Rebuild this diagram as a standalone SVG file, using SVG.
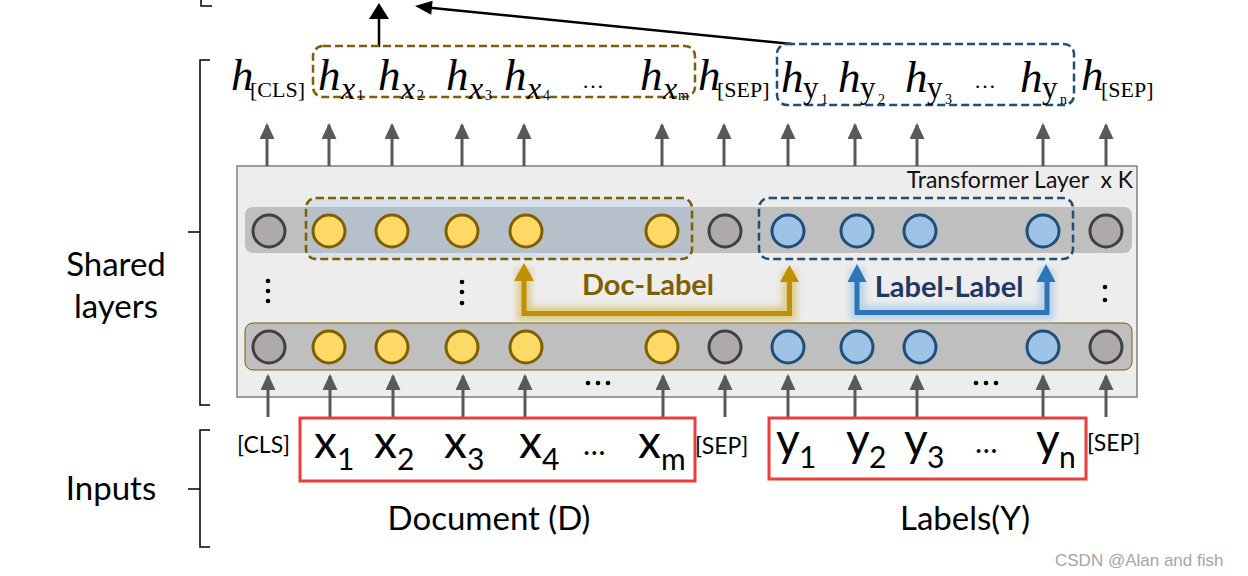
<svg xmlns="http://www.w3.org/2000/svg" width="1248" height="576" viewBox="0 0 1248 576">
<defs>
<style>
.hi{font-family:"Liberation Serif",serif;font-style:italic;font-size:45px;fill:#000}
.sb{font-family:"Liberation Serif",serif;font-size:22px;fill:#000}
.sx{font-family:"Liberation Serif",serif;font-style:italic;font-size:32px;fill:#000}
.sy{font-family:"Liberation Serif",serif;font-size:31px;fill:#000}
.sd{font-family:"Liberation Serif",serif;font-size:14px;fill:#000}
.cal{font-family:Lato,"Liberation Sans",sans-serif}
.tok{font-family:Lato,"Liberation Sans",sans-serif;font-size:46px;fill:#000}
.tsub{font-family:Lato,"Liberation Sans",sans-serif;font-size:30px;fill:#000}
.spec{font-family:Lato,"Liberation Sans",sans-serif;font-size:23px;fill:#000}
.ga{stroke:#595959;stroke-width:3;fill:none;marker-end:url(#gh)}
.cg{fill:#aeaaaa;stroke:#404040;stroke-width:3}
.cy{fill:#ffd966;stroke:#7f6000;stroke-width:3}
.cb{fill:#9dc3e6;stroke:#1f4e79;stroke-width:3}
.dot{fill:#000}
.brace{fill:none;stroke:#000;stroke-width:1.5}
</style>
<marker id="gh" markerUnits="userSpaceOnUse" viewBox="0 0 16 15" refX="14" refY="7.5" markerWidth="16" markerHeight="15" orient="auto">
<path d="M0,0 L16,7.5 L0,15 z" fill="#595959"/>
</marker>
<filter id="blur" x="-20%" y="-50%" width="140%" height="200%">
<feGaussianBlur stdDeviation="3"/>
</filter>
</defs>

<!-- braces -->
<g id="brace-top">
<path class="brace" d="M212,6 H201 V-10"/>
</g>
<g id="brace-shared">
<path class="brace" d="M210,60 H200 V232 H188 M200,232 V405 H210"/>
<text class="cal" x="116" y="276" font-size="33" style="fill:#000" text-anchor="middle">Shared</text>
<text class="cal" x="116" y="318" font-size="33" style="fill:#000" text-anchor="middle">layers</text>
</g>
<g id="brace-inputs">
<path class="brace" d="M210,430 H200 V489 H188 M200,489 V547 H210"/>
<text class="cal" x="111" y="500" font-size="33" style="fill:#000" text-anchor="middle">Inputs</text>
</g>

<!-- transformer block -->
<g id="transformer">
<rect x="237" y="166" width="900" height="231" fill="#ededed" stroke="#7f7f7f" stroke-width="1.5"/>
<text class="cal" x="1133" y="188" font-size="23" text-anchor="end" style="fill:#111;white-space:pre">Transformer Layer  x K</text>
<rect x="245" y="207" width="887" height="46" rx="8" fill="#bfbfbf"/>
<rect x="245" y="323" width="887" height="47" rx="8" fill="#bfbfbf" stroke="#7f6000" stroke-width="1"/>
</g>

<g id="doc-group-mid">
<rect x="306" y="198" width="386" height="61" rx="10" fill="#9dc3e6" fill-opacity="0.28" stroke="#7f6000" stroke-width="2.5" stroke-dasharray="8 4"/>
</g>
<g id="label-group-mid">
<rect x="759" y="198" width="314" height="61" rx="10" fill="none" stroke="#1f4e79" stroke-width="2.5" stroke-dasharray="8 4"/>
</g>

<!-- circles upper row -->
<g id="row-upper">
<circle class="cg" cx="269" cy="231" r="16"/>
<circle class="cy" cx="329" cy="231" r="16"/>
<circle class="cy" cx="392" cy="231" r="16"/>
<circle class="cy" cx="462" cy="231" r="16"/>
<circle class="cy" cx="526" cy="231" r="16"/>
<circle class="cy" cx="662" cy="231" r="16"/>
<circle class="cg" cx="725" cy="231" r="16"/>
<circle class="cb" cx="788" cy="231" r="16"/>
<circle class="cb" cx="857" cy="231" r="16"/>
<circle class="cb" cx="920" cy="231" r="16"/>
<circle class="cb" cx="1043" cy="231" r="16"/>
<circle class="cg" cx="1106" cy="231" r="16"/>
</g>
<g id="row-lower">
<circle class="cg" cx="269" cy="347" r="16"/>
<circle class="cy" cx="329" cy="347" r="16"/>
<circle class="cy" cx="392" cy="347" r="16"/>
<circle class="cy" cx="462" cy="347" r="16"/>
<circle class="cy" cx="526" cy="347" r="16"/>
<circle class="cy" cx="662" cy="347" r="16"/>
<circle class="cg" cx="725" cy="347" r="16"/>
<circle class="cb" cx="788" cy="347" r="16"/>
<circle class="cb" cx="857" cy="347" r="16"/>
<circle class="cb" cx="920" cy="347" r="16"/>
<circle class="cb" cx="1043" cy="347" r="16"/>
<circle class="cg" cx="1106" cy="347" r="16"/>
</g>

<g id="ellipses">
<circle class="dot" cx="268" cy="281" r="2.3"/><circle class="dot" cx="268" cy="291" r="2.3"/><circle class="dot" cx="268" cy="301" r="2.3"/>
<circle class="dot" cx="462" cy="282" r="2.3"/><circle class="dot" cx="462" cy="292" r="2.3"/><circle class="dot" cx="462" cy="303" r="2.3"/>
<circle class="dot" cx="1105" cy="287" r="2.3"/><circle class="dot" cx="1105" cy="300" r="2.3"/>
<circle class="dot" cx="588" cy="383" r="2.3"/><circle class="dot" cx="598" cy="383" r="2.3"/><circle class="dot" cx="608" cy="383" r="2.3"/>
<circle class="dot" cx="976" cy="383" r="2.3"/><circle class="dot" cx="986" cy="383" r="2.3"/><circle class="dot" cx="996" cy="383" r="2.3"/>
</g>

<!-- connectors -->
<g id="connectors">
<g id="up-top">
<line class="ga" x1="267" y1="166" x2="267" y2="125"/>
<line class="ga" x1="329" y1="166" x2="329" y2="125"/>
<line class="ga" x1="392" y1="166" x2="392" y2="125"/>
<line class="ga" x1="462" y1="166" x2="462" y2="125"/>
<line class="ga" x1="524" y1="166" x2="524" y2="125"/>
<line class="ga" x1="662" y1="166" x2="662" y2="125"/>
<line class="ga" x1="724" y1="166" x2="724" y2="125"/>
<line class="ga" x1="788" y1="166" x2="788" y2="125"/>
<line class="ga" x1="855" y1="166" x2="855" y2="125"/>
<line class="ga" x1="917" y1="166" x2="917" y2="125"/>
<line class="ga" x1="1043" y1="166" x2="1043" y2="125"/>
<line class="ga" x1="1106" y1="166" x2="1106" y2="125"/>
</g>
<g id="up-bottom">
<line class="ga" x1="268" y1="417" x2="268" y2="376"/>
<line class="ga" x1="330" y1="417" x2="330" y2="376"/>
<line class="ga" x1="393" y1="417" x2="393" y2="376"/>
<line class="ga" x1="463" y1="417" x2="463" y2="376"/>
<line class="ga" x1="525" y1="417" x2="525" y2="376"/>
<line class="ga" x1="663" y1="417" x2="663" y2="376"/>
<line class="ga" x1="725" y1="417" x2="725" y2="376"/>
<line class="ga" x1="788" y1="417" x2="788" y2="376"/>
<line class="ga" x1="855" y1="417" x2="855" y2="376"/>
<line class="ga" x1="917" y1="417" x2="917" y2="376"/>
<line class="ga" x1="1043" y1="417" x2="1043" y2="376"/>
<line class="ga" x1="1106" y1="417" x2="1106" y2="376"/>
</g>
<g id="doc-label-arrow">
<g filter="url(#blur)" opacity="0.6">
<path d="M524,268 V313.5 H789.5 V270" fill="none" stroke="#d6b656" stroke-width="15"/>
</g>
<path d="M524,280 V313.5 H789.5 V281" fill="none" stroke="#bf9000" stroke-width="5"/>
<polygon points="524,263 514,281 534,281" fill="#bf9000"/>
<polygon points="789.5,265 780,282 799,282" fill="#bf9000"/>
</g>
<g id="label-label-arrow">
<g filter="url(#blur)" opacity="0.65">
<path d="M857,268 V312.5 H1047 V268" fill="none" stroke="#9dc3e6" stroke-width="15"/>
</g>
<path d="M857,280 V312.5 H1047 V280" fill="none" stroke="#2e75b6" stroke-width="5"/>
<polygon points="857,264 847.5,282 866.5,282" fill="#2e75b6"/>
<polygon points="1046,264 1036.5,282 1055.5,282" fill="#2e75b6"/>
</g>
<g id="top-arrows">
<line x1="379" y1="47" x2="379" y2="17" stroke="#000" stroke-width="2.5"/>
<polygon points="379,3 369,19 389,19" fill="#000"/>
<line x1="792" y1="44" x2="430" y2="7.8" stroke="#000" stroke-width="2.5"/>
<polygon points="415,6 432.6,0.7 431.2,14.7" fill="#000"/>
</g>
</g>

<g id="relation-labels">
<text class="cal" x="648" y="295" font-size="29" font-weight="bold" style="fill:#7f6000" text-anchor="middle">Doc-Label</text>
<text class="cal" x="949" y="297" font-size="29" font-weight="bold" style="fill:#1f3864" text-anchor="middle">Label-Label</text>
</g>

<!-- hidden states row -->
<g id="doc-group-top">
<rect x="313" y="46" width="382" height="51" rx="10" fill="none" stroke="#7f6000" stroke-width="2.5" stroke-dasharray="8 4"/>
</g>
<g id="label-group-top">
<rect x="777" y="44" width="297" height="61" rx="10" fill="none" stroke="#1f4e79" stroke-width="2.5" stroke-dasharray="8 4"/>
</g>
<g id="hidden-states">
<text class="hi" x="231" y="90">h</text><text class="sb" x="250" y="97">[CLS]</text>
<text class="hi" x="318" y="90">h</text><text class="sx" x="341" y="99">x</text><text class="sd" x="357" y="100">1</text>
<text class="hi" x="378" y="90">h</text><text class="sx" x="401" y="99">x</text><text class="sd" x="417" y="100">2</text>
<text class="hi" x="446" y="90">h</text><text class="sx" x="469" y="99">x</text><text class="sd" x="485" y="100">3</text>
<text class="hi" x="504" y="90">h</text><text class="sx" x="527" y="99">x</text><text class="sd" x="543" y="100">4</text>
<text class="sb" x="582" y="88" font-size="26">…</text>
<text class="hi" x="640" y="90">h</text><text class="sx" x="663" y="99">x</text><text class="sd" x="678" y="100">m</text>
<text class="hi" x="698" y="90">h</text><text class="sb" x="717" y="97">[SEP]</text>
<text class="hi" x="781" y="92">h</text><text class="sy" x="803" y="98">y</text><text class="sd" x="821" y="104">1</text>
<text class="hi" x="838" y="92">h</text><text class="sy" x="860" y="98">y</text><text class="sd" x="878" y="104">2</text>
<text class="hi" x="905" y="92">h</text><text class="sy" x="927" y="98">y</text><text class="sd" x="945" y="104">3</text>
<text class="sb" x="974" y="88" font-size="26">…</text>
<text class="hi" x="1020" y="92">h</text><text class="sy" x="1042" y="98">y</text><text class="sd" x="1060" y="104">n</text>
<text class="hi" x="1081" y="90">h</text><text class="sb" x="1101" y="97">[SEP]</text>
</g>

<!-- inputs -->
<g id="doc-input">
<rect x="300" y="418" width="395" height="63" fill="none" stroke="#ee3b3b" stroke-width="3"/>
<text class="tok" x="314" y="458">x</text><text class="tsub" x="337" y="470">1</text>
<text class="tok" x="374" y="458">x</text><text class="tsub" x="397" y="470">2</text>
<text class="tok" x="444" y="458">x</text><text class="tsub" x="467" y="470">3</text>
<text class="tok" x="519" y="458">x</text><text class="tsub" x="542" y="470">4</text>
<text class="tsub" x="583" y="455" font-size="26">…</text>
<text class="tok" x="638" y="458">x</text><text class="tsub" x="661" y="470">m</text>
<text class="cal" x="489" y="530" font-size="33" style="fill:#000" text-anchor="middle">Document (D)</text>
</g>
<g id="label-input">
<rect x="769" y="418" width="317" height="61" fill="none" stroke="#ee3b3b" stroke-width="3"/>
<text class="tok" x="776" y="456">y</text><text class="tsub" x="799" y="468">1</text>
<text class="tok" x="846" y="456">y</text><text class="tsub" x="869" y="468">2</text>
<text class="tok" x="904" y="456">y</text><text class="tsub" x="927" y="468">3</text>
<text class="tsub" x="975" y="453" font-size="26">…</text>
<text class="tok" x="1036" y="456">y</text><text class="tsub" x="1059" y="468">n</text>
<text class="cal" x="965" y="530" font-size="33" style="fill:#000" text-anchor="middle">Labels(Y)</text>
</g>
<g id="special-tokens">
<text class="spec" x="237" y="453">[CLS]</text>
<text class="spec" x="695" y="454">[SEP]</text>
<text class="spec" x="1087" y="451">[SEP]</text>
</g>
<text x="1055" y="566" font-family="Liberation Sans, sans-serif" font-size="17" fill="#a6a6a6">CSDN @Alan and fish</text>
</svg>
